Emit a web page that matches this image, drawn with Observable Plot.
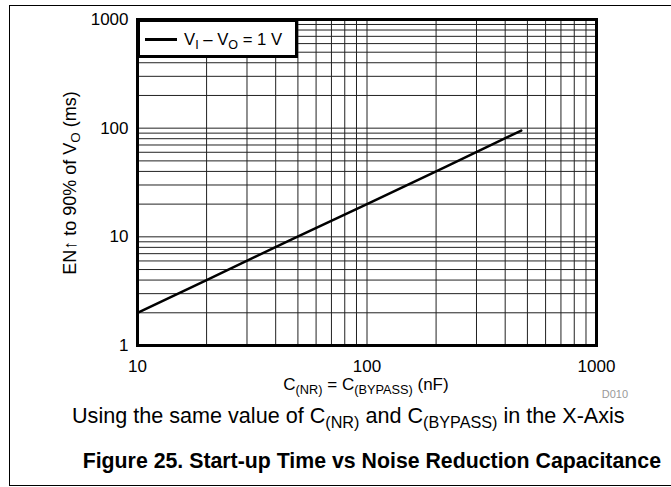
<!DOCTYPE html>
<html>
<head>
<meta charset="utf-8">
<script src="https://cdn.jsdelivr.net/npm/d3@7"></script>
<script src="https://cdn.jsdelivr.net/npm/@observablehq/plot@0.6"></script>
<style>
  html, body { margin: 0; padding: 0; background: #fff; }
  #wrap { position: relative; width: 671px; height: 487px; overflow: hidden; font-family: "Liberation Sans", Arial, sans-serif; color: #000; }
  #wrap svg { position: absolute; left: 0; top: 0; }
  .ov { position: absolute; white-space: nowrap; line-height: 1; }
  sub { font-size: 0.75em; vertical-align: -0.3em; line-height: 0; }
</style>
</head>
<body>
<div id="wrap"></div>
<script>
// Data (C in nF, start-up time in ms)
const capacitance = [10, 20, 47, 100, 220, 470];
const startupTime = [2, 4, 9.5, 20, 44, 95];
const seriesName = "VI – VO = 1 V";

// Grid / tick values
const xGrid = [10,20,30,40,50,60,70,80,90,100,200,300,400,500,600,700,800,900,1000];
const yGrid = [1,2,3,4,5,6,7,8,9,10,20,30,40,50,60,70,80,90,100,200,300,400,500,600,700,800,900,1000];
const xTickLabels = [10, 100, 1000];
const yTickLabels = [1, 10, 100, 1000];

const data = capacitance.map((c, i) => ({c, t: startupTime[i], series: seriesName}));

const chart = Plot.plot({
  width: 671,
  height: 487,
  marginLeft: 137,
  marginRight: 75,
  marginTop: 19,
  marginBottom: 142,
  style: {fontFamily: "Liberation Sans, Arial, sans-serif", fontSize: "17px", color: "#000", background: "transparent"},
  x: {type: "log", domain: [10, 1000]},
  y: {type: "log", domain: [1, 1000]},
  marks: [
    Plot.ruleX(xGrid, {stroke: "#222", strokeWidth: 1}),
    Plot.ruleY(yGrid, {stroke: "#222", strokeWidth: 1}),
    Plot.line(data, {x: "c", y: "t", stroke: "#000", strokeWidth: 2.5}),
    Plot.frame({stroke: "#000", strokeWidth: 3}),
    Plot.axisX({ticks: xTickLabels, tickFormat: d => String(d), tickSize: 0, tickPadding: 14, label: null, fontSize: 17}),
    Plot.axisY({ticks: yTickLabels, tickFormat: d => String(d), tickSize: 0, tickPadding: 9, label: null, fontSize: 17})
  ]
});

const wrap = document.getElementById("wrap");
wrap.appendChild(chart);

function ov(html, css) {
  const d = document.createElement("div");
  d.className = "ov";
  d.innerHTML = html;
  Object.assign(d.style, css);
  wrap.appendChild(d);
  return d;
}

// Outer page frame
ov("", {left: "9px", top: "5px", width: "680px", height: "479px", borderTop: "1.5px solid #000", borderLeft: "1.5px solid #000", borderBottom: "1.5px solid #000"});

// Legend
ov('<span style="display:inline-block;width:32px;height:2.5px;background:#000;vertical-align:middle;margin-right:7px;position:relative;top:-1px"></span>V<sub>I</sub> – V<sub>O</sub> = 1 V',
  {left: "137px", top: "19px", width: "150px", height: "33px", border: "3px solid #000", background: "#fff", fontSize: "16.7px", lineHeight: "35px", paddingLeft: "5px", boxSizing: "content-box"});

// Y axis title
ov('EN↑ to 90% of V<sub>O</sub> (ms)', {left: "70px", top: "183px", fontSize: "18px", transform: "translate(-50%,-50%) rotate(-90deg)"});

// X axis title
ov('C<sub>(NR)</sub> = C<sub>(BYPASS)</sub> (nF)', {left: "366px", top: "376px", fontSize: "17px", transform: "translateX(-50%)"});

// Figure code
ov('D010', {left: "628px", top: "389px", fontSize: "11px", color: "#999", transform: "translateX(-100%)"});

// Subtitle
ov('Using the same value of C<sub>(NR)</sub> and C<sub>(BYPASS)</sub> in the X-Axis', {left: "72px", top: "405px", fontSize: "21.6px"});

// Title
ov('Figure 25. Start-up Time vs Noise Reduction Capacitance', {left: "661px", top: "451px", fontSize: "21.3px", fontWeight: "bold", transform: "translateX(-100%)"});
</script>
</body>
</html>
